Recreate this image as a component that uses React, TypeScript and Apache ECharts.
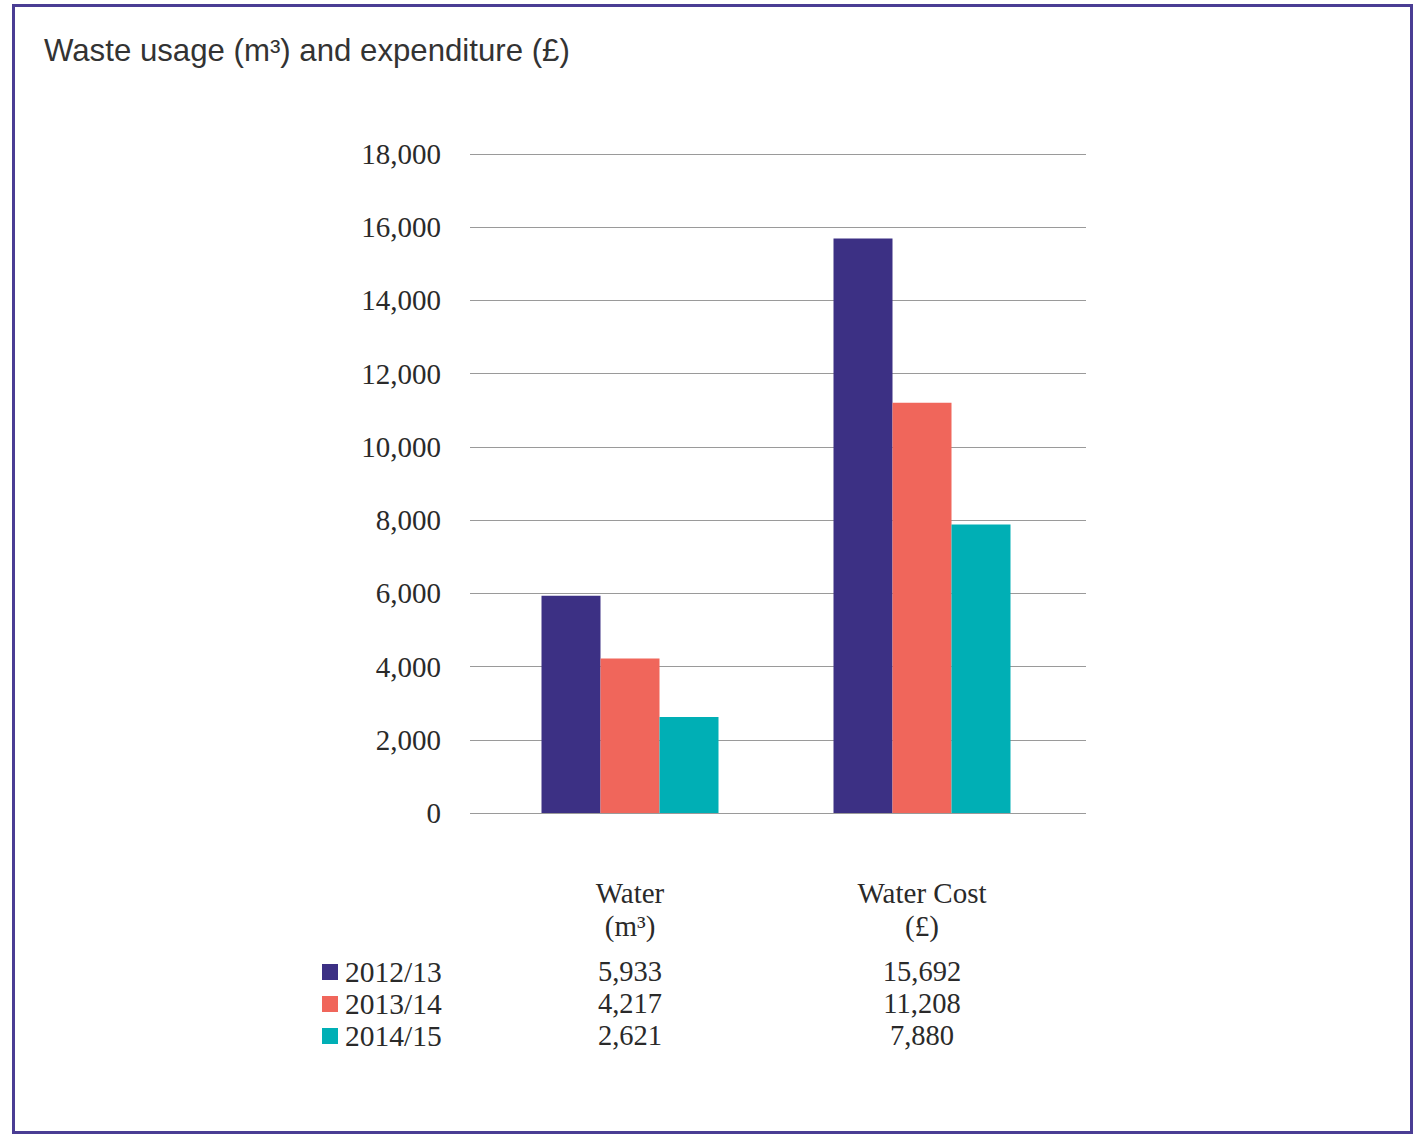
import React, { useEffect, useRef } from "react";
import * as echarts from "echarts";

const categories = ["Water", "Water Cost"];
const units = ["(m³)", "(£)"];
const seriesNames = ["2012/13", "2013/14", "2014/15"];
const values2012 = [5933, 15692];
const values2013 = [4217, 11208];
const values2014 = [2621, 7880];
const seriesColors = ["#3c3084", "#f0665b", "#00afb5"];
const yTicks = { min: 0, max: 18000, interval: 2000 };

const serif = "'Liberation Serif', 'DejaVu Serif', serif";
const fmt = (v: number) => v.toLocaleString("en-US");

export default function App() {
  const ref = useRef<HTMLDivElement>(null);
  useEffect(() => {
    if (!ref.current) return;
    const chart = echarts.init(ref.current, null, { renderer: "svg" });
    const allSeries = [values2012, values2013, values2014];
    chart.setOption({
      animation: false,
      backgroundColor: "#ffffff",
      title: {
        text: "Waste usage (m³) and expenditure (£)",
        left: 39,
        top: 30,
        textStyle: {
          fontFamily: "'Liberation Sans', Arial, sans-serif",
          fontWeight: "normal",
          fontSize: 31.2,
          color: "#333333",
        },
      },
      legend: {
        orient: "vertical",
        left: 317,
        top: 951,
        itemWidth: 16,
        itemHeight: 16,
        itemGap: 0,
        icon: "rect",
        data: seriesNames,
        textStyle: {
          fontFamily: serif,
          fontSize: 29.5,
          color: "#2a2a2a",
          lineHeight: 32,
          padding: [0, 0, 0, 2],
        },
        selectedMode: false,
      },
      grid: [
        { left: 470, right: 1414 - 1086, top: 154, bottom: 1135 - 813 },
        { left: 484, right: 1414 - 1068, top: 154, bottom: 1135 - 813 },
      ],
      xAxis: [
        {
          type: "category",
          gridIndex: 0,
          data: categories,
          axisLine: { show: false },
          axisTick: { show: false },
          axisLabel: { show: false },
        },
        {
          type: "category",
          gridIndex: 1,
          data: categories,
          axisLine: { show: false },
          axisTick: { show: false },
          axisLabel: {
            margin: 63,
            fontFamily: serif,
            fontSize: 29,
            color: "#2a2a2a",
            lineHeight: 33,
            verticalAlign: "top",
            formatter: (val: string, idx: number) => {
              const rows = allSeries.map((s) => `{r|${fmt(s[idx])}}`).join("\n");
              return `${val}\n${units[idx]}\n{g| }\n${rows}`;
            },
            rich: {
              g: { fontSize: 1, lineHeight: 13 },
              r: { fontFamily: serif, fontSize: 28.5, color: "#2a2a2a", lineHeight: 32 },
            },
          },
        },
      ],
      yAxis: [
        {
          type: "value",
          gridIndex: 0,
          min: yTicks.min,
          max: yTicks.max,
          interval: yTicks.interval,
          axisLine: { show: false },
          axisTick: { show: false },
          splitLine: { lineStyle: { color: "#9a9a9a", width: 1.2 } },
          axisLabel: {
            margin: 29,
            fontFamily: serif,
            fontSize: 29,
            color: "#2a2a2a",
            formatter: (v: number) => fmt(v),
          },
        },
        {
          type: "value",
          gridIndex: 1,
          min: yTicks.min,
          max: yTicks.max,
          interval: yTicks.interval,
          axisLine: { show: false },
          axisTick: { show: false },
          splitLine: { show: false },
          axisLabel: { show: false },
        },
      ],
      series: allSeries.map((s, i) => ({
        name: seriesNames[i],
        type: "bar",
        xAxisIndex: 1,
        yAxisIndex: 1,
        data: s,
        barWidth: 59,
        barGap: "0%",
        itemStyle: { color: seriesColors[i] },
        z: 3,
      })),
      graphic: [
        {
          type: "rect",
          shape: { x: 13.5, y: 5.5, width: 1398, height: 1127 },
          style: { fill: "none", stroke: "#4a3d94", lineWidth: 3 },
          silent: true,
        },
      ],
    });
    return () => chart.dispose();
  }, []);
  return (
    <div
      ref={ref}
      style={{ position: "absolute", left: 0, top: 0, width: 1414, height: 1135 }}
    />
  );
}
